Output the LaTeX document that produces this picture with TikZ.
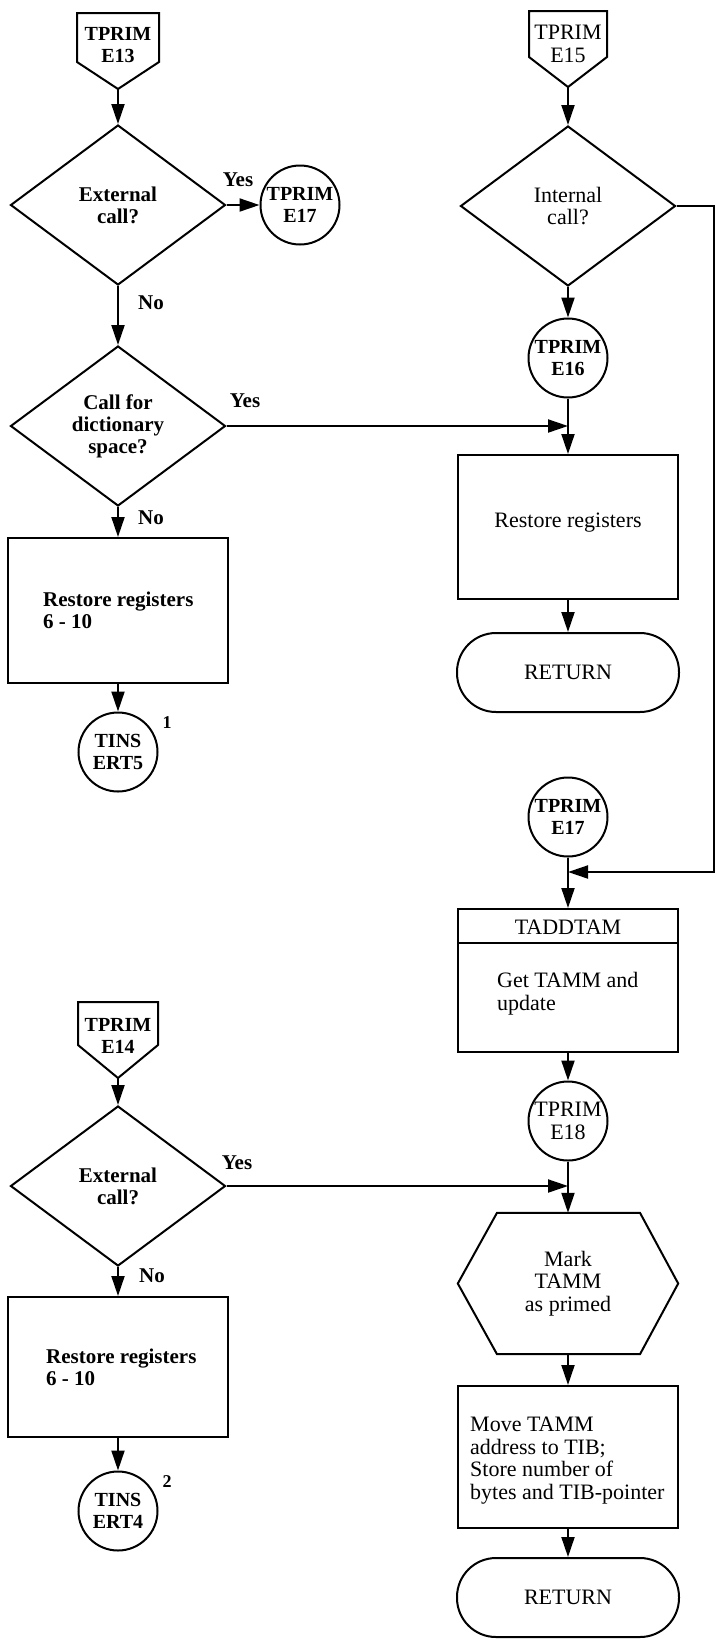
\documentclass[tikz,border=0pt]{standalone}
\usepackage{fontspec}
\setmainfont{Liberation Serif}
\usetikzlibrary{arrows.meta,shapes.geometric}
\begin{document}
\begin{tikzpicture}[x=1pt,y=-1pt,
  lw/.style={line width=2pt},
  arr/.style={line width=2pt,-{Triangle[length=20pt,width=13pt]}},
  bt/.style={font=\fontsize{21}{22}\selectfont\bfseries,inner sep=0pt,align=center},
  ct/.style={font=\fontsize{20}{21.5}\selectfont\bfseries,inner sep=0pt,align=center},
  btl/.style={font=\fontsize{21}{22}\selectfont\bfseries,inner sep=0pt,align=left},
  rt/.style={font=\fontsize{22}{22.5}\selectfont,inner sep=0pt,align=center},
  rtl/.style={font=\fontsize{22}{22.5}\selectfont,inner sep=0pt,align=left},
  connode/.style={circle,draw,line width=2pt,minimum size=79pt,inner sep=0pt},
  decbox/.style={diamond,draw,line width=2pt,minimum width=215pt,minimum height=160pt,inner sep=0pt},
  procbox/.style={rectangle,draw,line width=2pt,inner sep=0pt},
  termbox/.style={rectangle,draw,line width=2pt,rounded corners=39pt,inner sep=0pt,minimum height=79pt,minimum width=222pt},
  notenum/.style={font=\fontsize{18}{18}\selectfont\bfseries,inner sep=0pt},
]
\useasboundingbox (0,0) rectangle (717,1639);

% ---------- left column, upper ----------
\draw[lw] (77,13) -- (159,13) -- (159,62) -- (118,89) -- (77,62) -- cycle;
\node[ct] (e13) at (118,45) {TPRIM\\E13};
\coordinate (e13tip) at (118,89);
\node[decbox] (d1) at (118,205) {};
\node[bt] (d1t) at (d1.center) {External\\call?};
\draw[arr] (e13tip) -- (d1.north);
\node[connode,ct] (c17a) at (300,205) {TPRIM\\E17};
\draw[arr] (d1.east) -- (c17a.west);
\node[bt] (y1) at (238,180) {Yes};

\node[decbox] (d2) at (118,426) {};
\node[bt] (d2t) at (d2.center) {Call for\\dictionary\\space?};
\draw[arr] (d1.south) -- (d2.north);
\node[bt] (n1) at (151,303) {No};
\node[bt] (y2) at (245,401) {Yes};

\node[procbox,minimum width=220pt,minimum height=145pt] (b1) at (118,610.5) {};
\node[btl,anchor=west] (b1t) at (43,610) {Restore registers\\6 - 10};
\draw[arr] (d2.south) -- (b1.north);
\node[bt] (n2) at (151,518) {No};
\node[connode,ct] (t5) at (118,752) {TINS\\ERT5};
\draw[arr] (b1.south) -- (t5.north);
\node[notenum] (f1) at (167,723) {1};

% ---------- left column, lower ----------
\draw[lw] (78,1002) -- (158,1002) -- (158,1045) -- (118,1078) -- (78,1045) -- cycle;
\node[ct] (e14) at (118,1036) {TPRIM\\E14};
\coordinate (e14tip) at (118,1078);
\node[decbox] (d4) at (118,1186) {};
\node[bt] (d4t) at (d4.center) {External\\call?};
\draw[arr] (e14tip) -- (d4.north);
\node[bt] (y3) at (237,1163) {Yes};
\node[bt] (n3) at (152,1276) {No};
\node[procbox,minimum width=220pt,minimum height=140pt] (b5) at (118,1367) {};
\node[btl,anchor=west] (b5t) at (46,1367) {Restore registers\\6 - 10};
\draw[arr] (d4.south) -- (b5.north);
\node[connode,ct] (t4) at (118,1511) {TINS\\ERT4};
\draw[arr] (b5.south) -- (t4.north);
\node[notenum] (f2) at (167,1482) {2};

% ---------- right column ----------
\draw[lw] (529,11) -- (607,11) -- (607,57) -- (568,87) -- (529,57) -- cycle;
\node[rt] (e15) at (568,44) {TPRIM\\E15};
\coordinate (e15tip) at (568,87);
\node[decbox] (d3) at (568,206) {};
\node[rt] (d3t) at (d3.center) {Internal\\call?};
\draw[arr] (e15tip) -- (d3.north);
\node[connode,ct] (e16) at (568,358) {TPRIM\\E16};
\draw[arr] (d3.south) -- (e16.north);
\node[procbox,minimum width=220pt,minimum height=144pt] (b2) at (568,527) {};
\node[rt] (b2t) at (568,523) {Restore registers};
\draw[arr] (e16.south) -- (b2.north);
\draw[arr] (d2.east) -- (d2.east -| e16.south);
\node[termbox,rt] (r1) at (568,672.5) {RETURN};
\draw[arr] (b2.south) -- (r1.north);

\node[connode,ct] (e17b) at (568,817) {TPRIM\\E17};
\node[procbox,minimum width=220pt,minimum height=143pt] (b3) at (568,980.5) {};
\coordinate (hl) at (0,943);
\draw[lw] (b3.west |- hl) -- (b3.east |- hl);
\node[rt] (b3h) at (568,927) {TADDTAM};
\node[rtl,anchor=west] (b3t) at (497,993.5) {Get TAMM and\\update};
\draw[arr] (e17b.south) -- (b3.north);
\coordinate (fb) at (714,872);
\draw[arr] (d3.east) -| (fb) -- (fb -| e17b.south);

\node[connode,rt] (e18) at (568,1121) {TPRIM\\E18};
\draw[arr] (b3.south) -- (e18.north);
\node[rt,minimum width=220pt,minimum height=141pt] (hx) at (568,1283.5) {Mark\\TAMM\\as primed};
\draw[lw] ([xshift=-71pt]hx.north) -- ([xshift=72pt]hx.north) -- (hx.east)
  -- ([xshift=72pt]hx.south) -- ([xshift=-71pt]hx.south) -- (hx.west) -- cycle;
\draw[arr] (e18.south) -- (hx.north);
\draw[arr] (d4.east) -- (d4.east -| e18.south);
\node[procbox,minimum width=220pt,minimum height=142pt] (b4) at (568,1457) {};
\node[rtl,anchor=west] (b4t) at (470,1460.5) {Move TAMM\\address to TIB;\\Store number of\\bytes and TIB-pointer};
\draw[arr] (hx.south) -- (b4.north);
\node[termbox,rt] (r2) at (568,1597.5) {RETURN};
\draw[arr] (b4.south) -- (r2.north);
\end{tikzpicture}
\end{document}
